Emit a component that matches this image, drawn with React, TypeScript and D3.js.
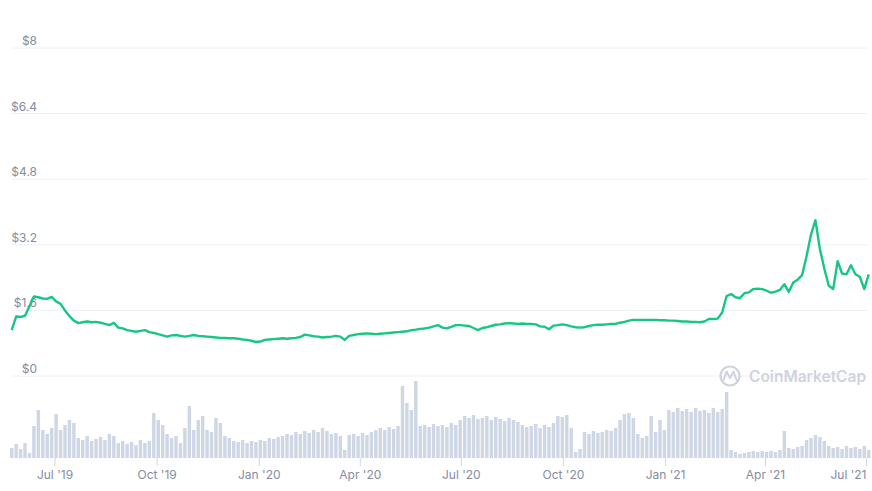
import React from 'react';
import * as d3 from 'd3';

// sampled every 4 days from the first point
const startDate = new Date(2019, 4, 23);
const stepDays = 4;

const prices = [
  1.12, 1.45, 1.44, 1.47, 1.7, 1.94, 1.92, 1.89, 1.88, 1.93,
  1.82, 1.76, 1.6, 1.46, 1.35, 1.29, 1.31, 1.33, 1.31, 1.32,
  1.3, 1.27, 1.24, 1.3, 1.18, 1.16, 1.12, 1.1, 1.08, 1.1,
  1.12, 1.07, 1.05, 1.02, 0.99, 0.96, 0.99, 1.0, 0.98, 0.96,
  0.98, 1.0, 0.98, 0.97, 0.96, 0.95, 0.94, 0.93, 0.93, 0.92,
  0.92, 0.91, 0.89, 0.88, 0.86, 0.83, 0.84, 0.88, 0.89, 0.9,
  0.91, 0.92, 0.91, 0.92, 0.93, 0.95, 1.01, 0.99, 0.97, 0.96,
  0.94, 0.95, 0.96, 0.98, 0.96, 0.88, 0.98, 1.0, 1.02, 1.03,
  1.04, 1.03, 1.02, 1.03, 1.04, 1.05, 1.06, 1.07, 1.08, 1.09,
  1.12, 1.13, 1.15, 1.16, 1.18, 1.21, 1.24, 1.18, 1.16, 1.2,
  1.24, 1.24, 1.23, 1.22, 1.17, 1.12, 1.17, 1.19, 1.22, 1.25,
  1.26, 1.28, 1.29, 1.28, 1.27, 1.28, 1.27, 1.27, 1.26, 1.21,
  1.2, 1.14, 1.23, 1.24, 1.26, 1.24, 1.21, 1.19, 1.18, 1.19,
  1.22, 1.24, 1.25, 1.25, 1.26, 1.27, 1.27, 1.3, 1.32, 1.35,
  1.37, 1.37, 1.37, 1.37, 1.37, 1.37, 1.36, 1.36, 1.35, 1.35,
  1.34, 1.33, 1.33, 1.32, 1.32, 1.31, 1.33, 1.39, 1.39, 1.4,
  1.55, 1.95, 2.0, 1.92, 1.9, 2.02, 2.04, 2.12, 2.13, 2.12,
  2.08, 2.03, 2.06, 2.1, 2.24, 2.05, 2.28, 2.35, 2.46, 2.92,
  3.45, 3.8, 3.1, 2.62, 2.2, 2.12, 2.8, 2.5, 2.48, 2.7,
  2.48, 2.42, 2.12, 2.48,
];

// 24h volume, relative units
const volumes = [
  10, 14, 9, 15, 5, 32, 48, 28, 24, 30,
  44, 28, 33, 38, 35, 20, 18, 22, 17, 19,
  21, 18, 24, 22, 15, 17, 14, 16, 13, 18,
  15, 17, 45, 38, 33, 24, 20, 22, 15, 30,
  52, 28, 38, 42, 28, 26, 40, 35, 22, 20,
  17, 16, 18, 15, 17, 16, 18, 17, 20, 19,
  21, 22, 24, 23, 26, 24, 27, 25, 28, 26,
  30, 27, 24, 25, 22, 8, 23, 24, 22, 25,
  23, 26, 28, 30, 28, 31, 29, 32, 72, 55,
  48, 77, 32, 33, 31, 34, 32, 33, 31, 35,
  33, 38, 42, 40, 43, 39, 40, 42, 38, 41,
  39, 37, 40, 38, 36, 33, 31, 32, 34, 30,
  33, 31, 35, 42, 41, 43, 30, 6, 9, 26,
  24, 27, 25, 26, 28, 27, 30, 38, 44, 45,
  40, 24, 20, 22, 42, 26, 38, 28, 48, 46,
  50, 47, 49, 46, 50, 47, 48, 45, 50, 46,
  49, 66, 8, 6, 4, 5, 6, 7, 6, 7,
  6, 7, 6, 8, 27, 10, 9, 11, 12, 18,
  20, 23, 21, 17, 12, 10, 11, 9, 12, 10,
  11, 9, 12, 8,
];

const priceTicks = [0, 1.6, 3.2, 4.8, 6.4, 8];
const priceTickLabels = ['$0', '$1.6', '$3.2', '$4.8', '$6.4', '$8'];

const dateTicks = [
  new Date(2019, 6, 1), new Date(2019, 9, 1), new Date(2020, 0, 1),
  new Date(2020, 3, 1), new Date(2020, 6, 1), new Date(2020, 9, 1),
  new Date(2021, 0, 1), new Date(2021, 3, 1), new Date(2021, 6, 1),
];
const dateTickLabels = [
  "Jul '19", "Oct '19", "Jan '20", "Apr '20", "Jul '20",
  "Oct '20", "Jan '21", "Apr '21", "Jul '21",
];

const W = 872;
const H = 491;
const font = 'Inter, "Noto Sans", sans-serif';

export default function App() {
  const x = d3.scaleTime()
    .domain([new Date(2019, 6, 1), new Date(2021, 6, 1)])
    .range([55, 866.5]);
  const y = d3.scaleLinear().domain([0, 8]).range([376, 48]);
  const yv = d3.scaleLinear().domain([0, 80]).range([458, 378]);

  const dateAt = (i: number) => d3.timeDay.offset(startDate, i * stepDays);

  const line = d3.line<number>()
    .x((_, i) => x(dateAt(i)))
    .y((d) => y(d));

  const barW = x(dateAt(1)) - x(dateAt(0)) - 1;

  return (
    <svg width={W} height={H} style={{ position: 'absolute', left: 0, top: 0, background: '#fff' }}>
      {priceTicks.map((t, i) => (
        <g key={t}>
          <line x1={12} x2={868} y1={y(t)} y2={y(t)} stroke="#eef0f3" strokeWidth={1} />
          <text x={37} y={y(t) - 3} textAnchor="end" fontFamily={font} fontSize={12} fill="#858ca2">
            {priceTickLabels[i]}
          </text>
        </g>
      ))}

      {/* watermark */}
      <g>
        <circle cx={730} cy={376} r={9.5} fill="none" stroke="#cfd3de" strokeWidth={2.2} />
        <path d="M723.5,380 L726.5,371.5 L730,378 L733.5,371.5 L736.5,380"
          fill="none" stroke="#cfd3de" strokeWidth={2} strokeLinejoin="round" strokeLinecap="round" />
        <text x={749} y={381.5} fontFamily={font} fontSize={15.5} fontWeight={600} fill="#cfd3de">
          CoinMarketCap
        </text>
      </g>

      {volumes.map((v, i) => (
        <rect key={i} x={x(dateAt(i)) - barW / 2} y={yv(v)} width={barW}
          height={yv(0) - yv(v)} fill="#cfd6e4" />
      ))}

      <path d={line(prices) || ''} fill="none" stroke="#16c784" strokeWidth={2.4}
        strokeLinejoin="round" />

      {dateTicks.map((d, i) => {
        const last = i === dateTicks.length - 1;
        return (
          <g key={i}>
            <line x1={x(d)} x2={x(d)} y1={458} y2={466} stroke="#cfd6e4" strokeWidth={1} />
            <text x={x(d)} y={479} textAnchor={last ? 'end' : 'middle'} fontFamily={font}
              fontSize={12} fill="#858ca2">
              {dateTickLabels[i]}
            </text>
          </g>
        );
      })}
    </svg>
  );
}
